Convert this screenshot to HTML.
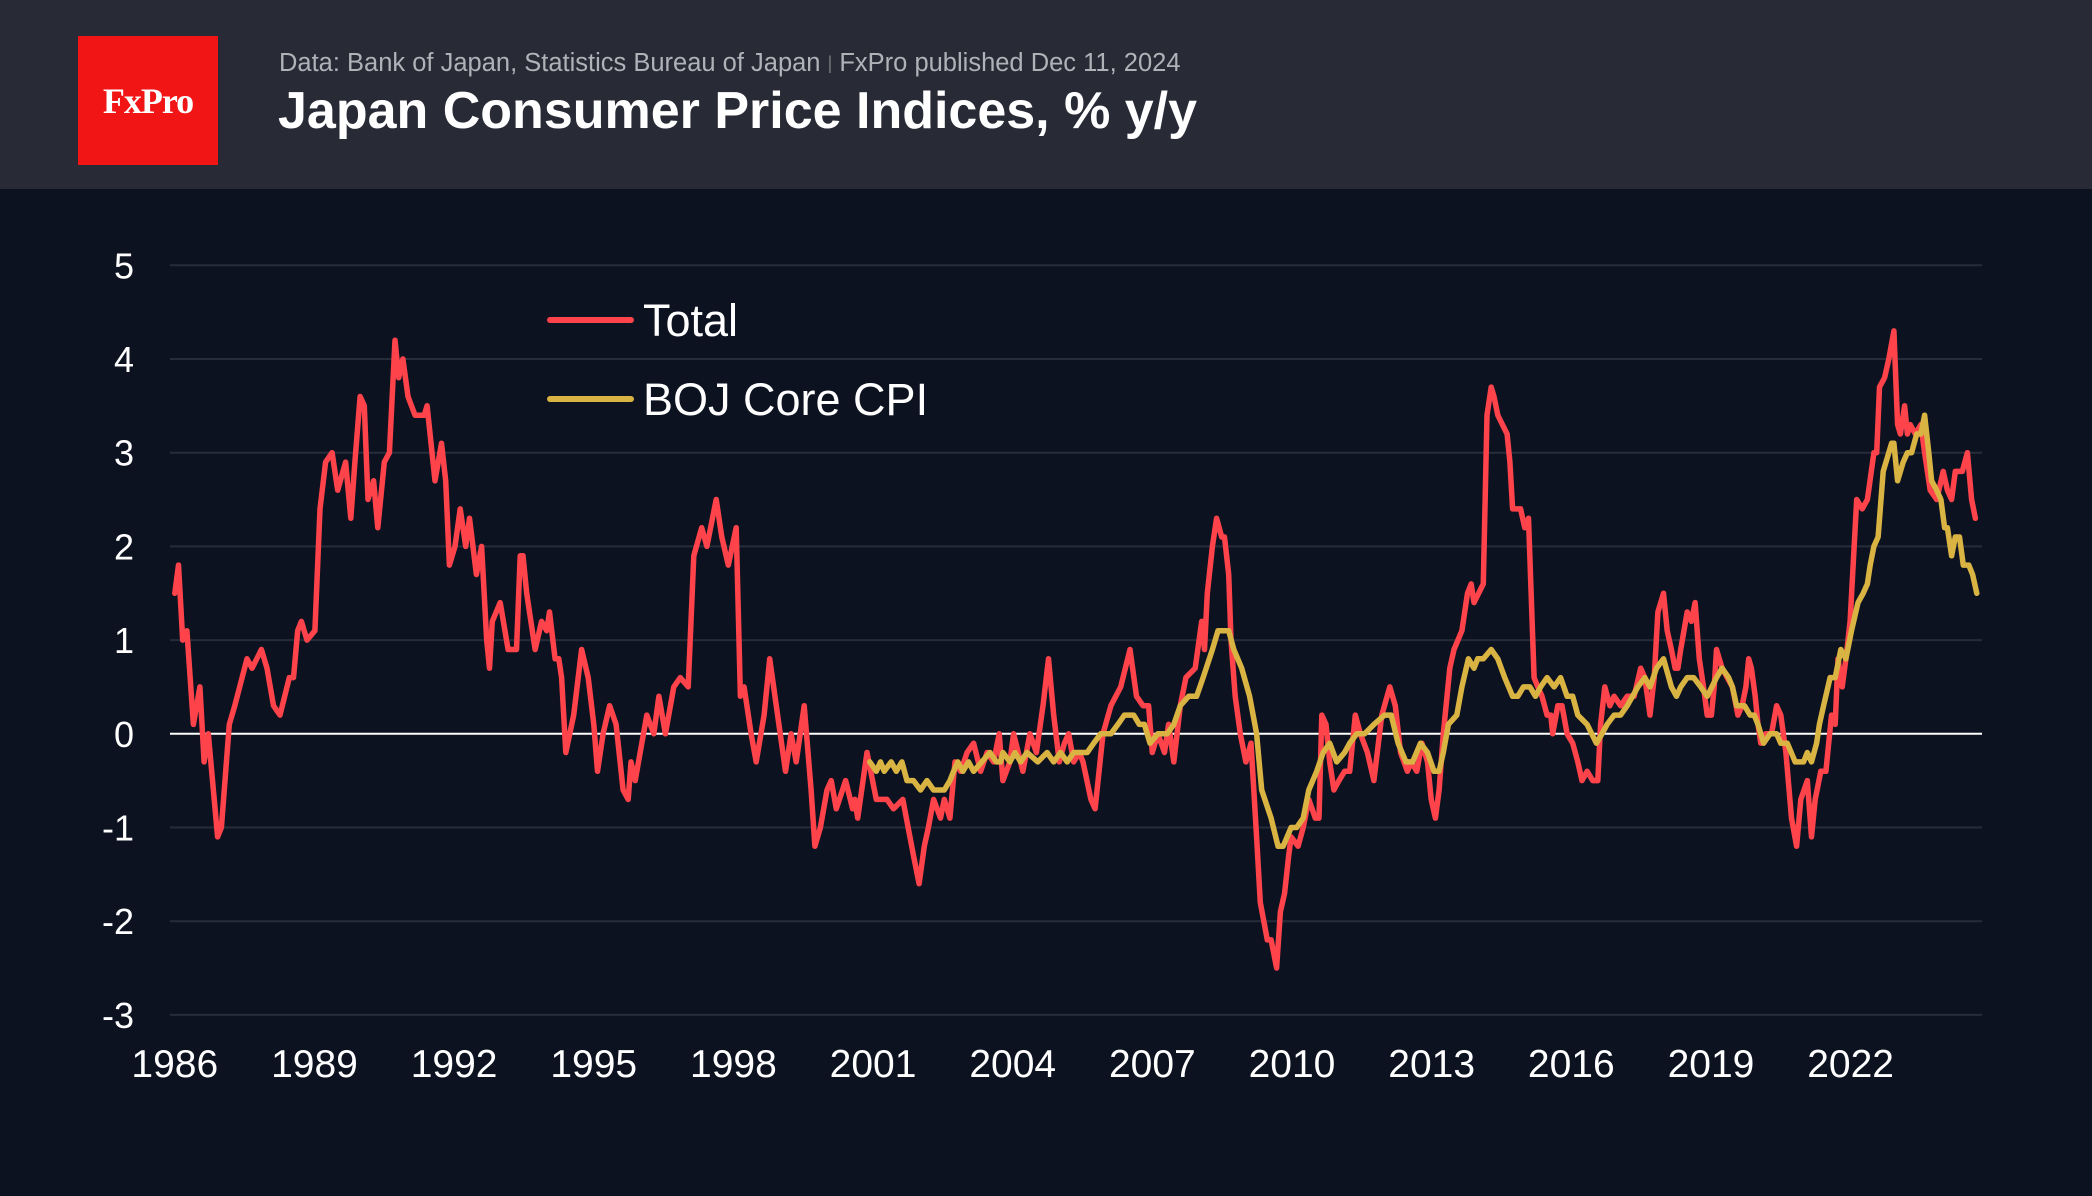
<!DOCTYPE html>
<html><head><meta charset="utf-8">
<style>
html,body{margin:0;padding:0;}
body{width:2092px;height:1196px;background:#0c1220;overflow:hidden;font-family:"Liberation Sans",sans-serif;position:relative;}
#header{position:absolute;left:0;top:0;width:2092px;height:189px;background:#282a36;}
#logo{position:absolute;left:78px;top:36px;width:140px;height:129px;background:#f21516;color:#fff;font-family:"Liberation Serif",serif;font-weight:bold;font-size:36px;display:flex;align-items:center;justify-content:center;letter-spacing:-1px;}
#subtitle{position:absolute;left:279px;top:49px;font-size:25.5px;color:#b0b2b8;white-space:nowrap;}
#title{position:absolute;left:278px;top:81px;font-size:52px;font-weight:bold;color:#fff;white-space:nowrap;}
svg{position:absolute;left:0;top:0;}
</style></head><body>
<div id="header">
  <div id="logo">FxPro</div>
  <div id="subtitle">Data: Bank of Japan, Statistics Bureau of Japan <span style="color:#777;font-size:18px;vertical-align:2px">|</span> FxPro published Dec 11, 2024</div>
  <div id="title">Japan Consumer Price Indices, % y/y</div>
</div>
<svg id="chart" width="2092" height="1196"></svg>
<script>
const BASE_YEAR = 1986;
const yTicks = [5,4,3,2,1,0,-1,-2,-3];
const xTickYears = [1986,1989,1992,1995,1998,2001,2004,2007,2010,2013,2016,2019,2022];
const totalYearsSinceBase = [0,0.08,0.17,0.26,0.40,0.54,0.63,0.72,0.92,1.00,1.17,1.29,1.55,1.66,1.86,1.98,2.12,2.26,2.46,2.55,2.64,2.72,2.84,3.01,3.12,3.24,3.38,3.50,3.67,3.78,3.87,3.98,4.07,4.15,4.27,4.36,4.50,4.61,4.73,4.81,4.90,5.01,5.16,5.36,5.42,5.59,5.73,5.82,5.90,6.02,6.13,6.25,6.33,6.48,6.59,6.70,6.76,6.82,6.99,7.16,7.34,7.42,7.48,7.56,7.74,7.88,7.99,8.05,8.17,8.25,8.31,8.40,8.57,8.74,8.88,9.00,9.08,9.20,9.34,9.48,9.63,9.74,9.80,9.89,10.14,10.29,10.40,10.54,10.72,10.86,11.03,11.15,11.32,11.43,11.63,11.75,11.89,12.06,12.15,12.23,12.38,12.49,12.66,12.78,12.95,13.12,13.24,13.35,13.52,13.67,13.75,13.87,14.01,14.10,14.21,14.41,14.56,14.61,14.67,14.87,15.07,15.30,15.44,15.64,15.87,15.99,16.10,16.19,16.30,16.45,16.53,16.65,16.76,16.88,17.02,17.16,17.31,17.45,17.59,17.71,17.79,17.94,18.02,18.22,18.37,18.51,18.65,18.77,18.88,19.00,19.11,19.20,19.31,19.43,19.51,19.68,19.77,19.94,20.11,20.32,20.52,20.66,20.80,20.92,21.00,21.12,21.26,21.35,21.46,21.60,21.72,21.92,22.06,22.12,22.18,22.29,22.38,22.49,22.55,22.64,22.69,22.78,22.89,23.01,23.12,23.24,23.32,23.47,23.55,23.67,23.75,23.84,23.93,23.98,24.13,24.24,24.36,24.50,24.58,24.64,24.73,24.81,24.90,25.01,25.13,25.24,25.36,25.47,25.62,25.76,25.93,26.10,26.22,26.33,26.48,26.56,26.68,26.79,26.91,26.99,27.08,27.16,27.25,27.39,27.48,27.65,27.77,27.85,27.91,28.11,28.19,28.28,28.34,28.42,28.62,28.68,28.74,28.91,29.00,29.08,29.20,29.28,29.37,29.48,29.56,29.60,29.71,29.80,29.91,30.03,30.14,30.23,30.34,30.46,30.57,30.63,30.72,30.83,30.92,31.06,31.20,31.35,31.49,31.58,31.69,31.78,31.86,31.98,32.06,32.15,32.23,32.29,32.35,32.49,32.58,32.66,32.75,32.84,32.92,33.01,33.07,33.12,33.24,33.35,33.46,33.58,33.67,33.75,33.81,33.87,33.95,34.01,34.07,34.18,34.30,34.41,34.50,34.61,34.73,34.84,34.93,35.07,35.16,35.24,35.36,35.47,35.59,35.67,35.73,35.82,35.90,35.99,36.13,36.25,36.36,36.50,36.56,36.62,36.73,36.82,36.93,37.01,37.07,37.16,37.22,37.28,37.39,37.51,37.59,37.71,37.85,37.99,38.08,38.17,38.25,38.34,38.40,38.51,38.60,38.68];
const totalValues = [1.5,1.8,1.0,1.1,0.1,0.5,-0.3,0.0,-1.1,-1.0,0.1,0.3,0.8,0.7,0.9,0.7,0.3,0.2,0.6,0.6,1.1,1.2,1.0,1.1,2.4,2.9,3.0,2.6,2.9,2.3,2.9,3.6,3.5,2.5,2.7,2.2,2.9,3.0,4.2,3.8,4.0,3.6,3.4,3.4,3.5,2.7,3.1,2.7,1.8,2.0,2.4,2.0,2.3,1.7,2.0,1.0,0.7,1.2,1.4,0.9,0.9,1.9,1.9,1.5,0.9,1.2,1.1,1.3,0.8,0.8,0.6,-0.2,0.2,0.9,0.6,0.1,-0.4,0.0,0.3,0.1,-0.6,-0.7,-0.3,-0.5,0.2,0.0,0.4,0.0,0.5,0.6,0.5,1.9,2.2,2.0,2.5,2.1,1.8,2.2,0.4,0.5,0.0,-0.3,0.2,0.8,0.2,-0.4,0.0,-0.3,0.3,-0.6,-1.2,-1.0,-0.6,-0.5,-0.8,-0.5,-0.8,-0.7,-0.9,-0.2,-0.7,-0.7,-0.8,-0.7,-1.3,-1.6,-1.2,-1.0,-0.7,-0.9,-0.7,-0.9,-0.3,-0.4,-0.2,-0.1,-0.4,-0.2,-0.3,0.0,-0.5,-0.3,0.0,-0.4,0.0,-0.2,0.3,0.8,0.2,-0.3,-0.1,0.0,-0.3,-0.2,-0.3,-0.7,-0.8,0.0,0.3,0.5,0.9,0.4,0.3,0.3,-0.2,0.0,-0.2,0.1,-0.3,0.3,0.6,0.7,1.2,0.9,1.5,2.0,2.3,2.1,2.1,1.7,1.0,0.4,0.0,-0.3,-0.1,-1.1,-1.8,-2.2,-2.2,-2.5,-1.9,-1.7,-1.3,-1.1,-1.2,-1.0,-0.7,-0.9,-0.9,0.2,0.1,-0.3,-0.6,-0.5,-0.4,-0.4,0.2,0.0,-0.2,-0.5,0.2,0.5,0.3,-0.2,-0.4,-0.3,-0.4,-0.1,-0.3,-0.7,-0.9,-0.6,0.0,0.7,0.9,1.1,1.5,1.6,1.4,1.6,3.4,3.7,3.6,3.4,3.2,2.9,2.4,2.4,2.2,2.3,0.6,0.5,0.4,0.2,0.2,0.0,0.3,0.3,0.0,-0.1,-0.3,-0.5,-0.4,-0.5,-0.5,0.1,0.5,0.3,0.4,0.3,0.4,0.4,0.7,0.6,0.2,0.6,1.3,1.5,1.1,0.9,0.7,0.7,0.9,1.3,1.2,1.4,0.8,0.5,0.2,0.2,0.5,0.9,0.7,0.6,0.5,0.2,0.3,0.5,0.8,0.7,0.4,0.1,-0.1,0.0,0.0,0.3,0.2,-0.2,-0.9,-1.2,-0.7,-0.5,-1.1,-0.7,-0.4,-0.4,0.2,0.1,0.8,0.5,0.8,1.2,2.5,2.4,2.5,3.0,3.0,3.7,3.8,4.0,4.3,3.3,3.2,3.5,3.2,3.3,3.2,3.3,3.0,2.6,2.5,2.8,2.6,2.5,2.8,2.8,2.8,3.0,2.5,2.3];
const coreYearsSinceBase = [14.93,15.07,15.16,15.24,15.39,15.50,15.62,15.73,15.87,16.02,16.16,16.30,16.53,16.65,16.73,16.82,16.93,17.05,17.16,17.51,17.65,17.74,17.79,17.94,18.05,18.17,18.31,18.54,18.74,18.88,19.03,19.17,19.31,19.60,19.74,19.89,20.11,20.26,20.40,20.60,20.72,20.83,20.95,21.12,21.32,21.46,21.60,21.78,21.95,22.09,22.29,22.41,22.64,22.75,22.92,23.09,23.24,23.35,23.55,23.70,23.81,23.98,24.10,24.24,24.36,24.53,24.67,24.81,24.96,25.13,25.24,25.39,25.56,25.76,25.99,26.13,26.28,26.45,26.59,26.76,26.91,27.05,27.16,27.25,27.36,27.54,27.65,27.79,27.91,27.99,28.11,28.28,28.42,28.57,28.74,28.85,28.97,29.11,29.23,29.34,29.48,29.63,29.77,29.91,30.03,30.14,30.34,30.54,30.66,30.77,30.92,31.06,31.20,31.43,31.58,31.69,31.83,31.98,32.15,32.26,32.35,32.49,32.63,32.78,32.92,33.12,33.24,33.38,33.46,33.55,33.72,33.84,33.93,34.01,34.13,34.27,34.41,34.50,34.64,34.81,34.99,35.07,35.16,35.27,35.33,35.42,35.56,35.67,35.79,35.90,36.02,36.16,36.27,36.36,36.42,36.50,36.59,36.70,36.88,36.93,37.01,37.13,37.22,37.31,37.42,37.51,37.59,37.68,37.74,37.85,37.94,38.02,38.08,38.17,38.25,38.34,38.42,38.54,38.62,38.71];
const coreValues = [-0.3,-0.4,-0.3,-0.4,-0.3,-0.4,-0.3,-0.5,-0.5,-0.6,-0.5,-0.6,-0.6,-0.5,-0.4,-0.3,-0.4,-0.3,-0.4,-0.2,-0.3,-0.3,-0.2,-0.3,-0.2,-0.3,-0.2,-0.3,-0.2,-0.3,-0.2,-0.3,-0.2,-0.2,-0.1,0.0,0.0,0.1,0.2,0.2,0.1,0.1,-0.1,0.0,0.0,0.1,0.3,0.4,0.4,0.6,0.9,1.1,1.1,0.9,0.7,0.4,0.0,-0.6,-0.9,-1.2,-1.2,-1.0,-1.0,-0.9,-0.6,-0.4,-0.2,-0.1,-0.3,-0.2,-0.1,0.0,0.0,0.1,0.2,0.2,-0.1,-0.3,-0.3,-0.1,-0.2,-0.4,-0.4,-0.2,0.1,0.2,0.5,0.8,0.7,0.8,0.8,0.9,0.8,0.6,0.4,0.4,0.5,0.5,0.4,0.5,0.6,0.5,0.6,0.4,0.4,0.2,0.1,-0.1,0.0,0.1,0.2,0.2,0.3,0.5,0.6,0.5,0.7,0.8,0.5,0.4,0.5,0.6,0.6,0.5,0.4,0.6,0.7,0.6,0.5,0.3,0.3,0.2,0.2,0.1,-0.1,0.0,0.0,-0.1,-0.1,-0.3,-0.3,-0.2,-0.3,-0.1,0.1,0.3,0.6,0.6,0.9,0.8,1.1,1.4,1.5,1.6,1.8,2.0,2.1,2.8,3.1,3.1,2.7,2.9,3.0,3.0,3.2,3.2,3.4,3.0,2.7,2.6,2.5,2.2,2.2,1.9,2.1,2.1,1.8,1.8,1.7,1.5];

const NS = 'http://www.w3.org/2000/svg';
const svg = document.getElementById('chart');
const X0 = 174.8, PX_PER_YEAR = 46.55, Y0 = 733.8, PX_PER_UNIT = 93.7;
function xScale(year){ return X0 + (year - BASE_YEAR) * PX_PER_YEAR; }
function yScale(v){ return Y0 - v * PX_PER_UNIT; }
function mk(tag, attrs){ const e = document.createElementNS(NS, tag); for (const k in attrs) e.setAttribute(k, attrs[k]); svg.appendChild(e); return e; }

yTicks.forEach(t => {
  const y = yScale(t);
  const g = mk('line', {x1:170, x2:1982, y1:y, y2:y, stroke: t===0 ? '#ffffff' : '#262c3a', 'stroke-width': 2});
  
  
  const lb = mk('text', {x:134, y:y+13, 'text-anchor':'end', fill:'#ffffff', 'font-size':36, 'font-family':'Liberation Sans, sans-serif'});
  lb.textContent = String(t);
  
  
});
xTickYears.forEach(yr => {
  const lb = mk('text', {x:xScale(yr), y:1077, 'text-anchor':'middle', fill:'#ffffff', 'font-size':39, 'font-family':'Liberation Sans, sans-serif'});
  lb.textContent = String(yr);
  
  
});
function series(years, vals, color, name){
  const d = years.map((o,i) => (i ? 'L' : 'M') + xScale(BASE_YEAR + o).toFixed(1) + ',' + yScale(vals[i]).toFixed(1)).join(' ');
  const p = mk('path', {d:d, fill:'none', stroke:color, 'stroke-width':5.5, 'stroke-linejoin':'round', 'stroke-linecap':'round'});
  
  
}
series(totalYearsSinceBase, totalValues, '#fe434b', 'total-line');
series(coreYearsSinceBase, coreValues, '#d9b443', 'core-cpi-line');

const legendItems = [['Total','#fe434b',320],['BOJ Core CPI','#d9b443',399]];
legendItems.forEach(([label,color,y]) => {
  const l = mk('line', {x1:550, x2:631, y1:y, y2:y, stroke:color, 'stroke-width':6, 'stroke-linecap':'round'});
  
  
  const t = mk('text', {x:643, y:y+16, fill:'#ffffff', 'font-size':45, 'font-family':'Liberation Sans, sans-serif'});
  t.textContent = label;
  
  
});
</script>
</body></html>
